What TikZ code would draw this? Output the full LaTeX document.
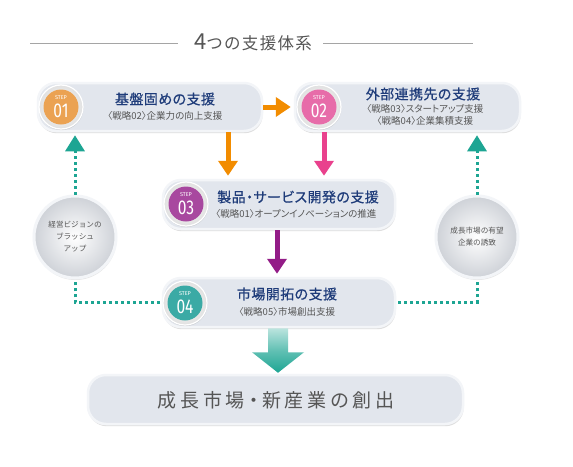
\documentclass[tikz,border=0pt]{standalone}
\usepackage{fontspec}
\usepackage{graphicx}
\setmainfont{Noto Sans CJK JP}
\newfontfamily\jp{Noto Sans CJK JP}
\newfontfamily\jpp[RawFeature=+palt]{Noto Sans CJK JP}
\newfontfamily\jppb[RawFeature=+palt,FakeBold=0.6]{Noto Sans CJK JP}
\newfontfamily\numf{Fira Sans}
\usetikzlibrary{arrows.meta,shadows}
\definecolor{navy}{HTML}{1F3C7A}
\definecolor{txtgray}{HTML}{555555}
\definecolor{linegray}{HTML}{A5A5A5}
\definecolor{boxfill}{HTML}{E2E6ED}
\definecolor{boxedge}{HTML}{F3F5F8}
\definecolor{cOrange}{HTML}{EBA252}
\definecolor{cPink}{HTML}{E76CA9}
\definecolor{cPurple}{HTML}{A8489F}
\definecolor{cTeal}{HTML}{3BAAA5}
\definecolor{aOrange}{HTML}{F28C00}
\definecolor{aPink}{HTML}{E9418D}
\definecolor{aPurple}{HTML}{931C87}
\definecolor{aTeal}{HTML}{1DA593}
\newcommand\boxttl[1]{{\jppb\fontsize{14}{15}\selectfont\addfontfeature{LetterSpace=3}#1}}
\newcommand\boxsub[1]{{\jpp\fontsize{9.5}{10}\selectfont #1}}
\tikzset{
  pill/.style={draw=boxedge, line width=2.5pt, fill=boxfill, rounded corners=18pt,
    drop shadow={fill=black!45, opacity=0.28, shadow xshift=0.6pt, shadow yshift=-2.2pt}},
  stepring/.style={circle, minimum size=44pt, inner sep=0pt, draw=white, line width=1.2pt,
    inner color=white, outer color=black!12,
    drop shadow={fill=black!40, opacity=0.25, shadow xshift=0.4pt, shadow yshift=-1.2pt}},
  stepdot/.style={circle, minimum size=35pt, inner sep=0pt, draw=none},
  steplbl/.style={text=white, font=\numf\fontsize{5.5}{6}\selectfont, inner sep=0pt},
  stepnum/.style={text=white, font=\numf\fontsize{20}{20}\selectfont, inner sep=0pt},
  side/.style={circle, minimum size=82pt, inner sep=0pt, draw=boxedge, line width=3pt,
    inner color=white, outer color=boxfill!90!black!95,
    drop shadow={fill=black!40, opacity=0.25, shadow xshift=0.6pt, shadow yshift=-2pt},
    text=txtgray, align=center, font=\jp\fontsize{7.6}{12}\selectfont},
  solidarr/.style={line width=5pt, -{Triangle[width=19pt,length=15pt]}, shorten >=3pt},
  dotline/.style={aTeal, line width=3pt, dash pattern=on 3pt off 3pt},
  dotarr/.style={dotline, -{Triangle[width=19pt,length=16pt]}, shorten >=3pt}
}
\begin{document}
\begin{tikzpicture}[x=1pt,y=-1pt]
\useasboundingbox (0,0) rectangle (573,466);
\fill[white] (0,0) rectangle (573,466);

% title
\node[text=txtgray, inner sep=0pt] (title) at (253,42)
  {{\jp\fontsize{22}{22}\selectfont 4}{\jp\fontsize{16.5}{17}\selectfont\addfontfeature{LetterSpace=8} つの支援体系}};
\coordinate (tl) at (30,43);
\coordinate (tr) at (473,43);
\draw[linegray, line width=0.8pt] (tl) -- (178,43);
\draw[linegray, line width=0.8pt] (323,43) -- (tr);

% side circles
\node[side] (lc) at (75,237) {経営ビジョンの\\ブラッシュ\\アップ};
\node[side] (rc) at (477,237) {成長市場の有望\\企業の誘致};

% main boxes
\node[pill, minimum width=224pt, minimum height=48pt] (b1) at (150,107) {};
\node[pill, minimum width=225pt, minimum height=48pt] (b2) at (407.5,107) {};
\node[pill, minimum width=232pt, minimum height=49pt] (b3) at (279,204.5) {};
\node[pill, minimum width=232pt, minimum height=49pt] (b4) at (279,302.5) {};
\node[pill, minimum width=375pt, minimum height=49pt] (fin) at (275.5,399.5) {};

% dotted teal connectors
\draw[dotline, shorten <=2pt] (b4.west) -| (lc.south);
\draw[dotline, shorten <=2pt] (b4.east) -| (rc.south);
\draw[dotarr] (lc.north) -- (lc.north |- b1.south);
\draw[dotarr] (rc.north) -- (rc.north |- b2.south);

% solid arrows
\coordinate (xo) at (228,0);
\coordinate (xp) at (324,0);
\coordinate (xu) at (277,0);
\draw[solidarr, aOrange] (b1.east) -- (b2.west);
\draw[solidarr, aOrange] (xo |- b1.south) -- (xo |- b3.north);
\draw[solidarr, aPink] (xp |- b2.south) -- (xp |- b3.north);
\draw[solidarr, aPurple] (xu |- b3.south) -- (xu |- b4.north);

% big teal arrow
\coordinate (xb) at (278,0);
\coordinate (ab) at (xb |- b4.south);
\coordinate (at) at (xb |- fin.north);
\shade[top color=aTeal!30, bottom color=aTeal, middle color=aTeal!70]
  ([xshift=-10pt]ab) -- ([xshift=10pt]ab) -- ([xshift=10pt,yshift=-24pt]ab)
  -- ([xshift=26pt,yshift=-24pt]ab) -- ([yshift=1pt]at) -- ([xshift=-26pt,yshift=-24pt]ab)
  -- ([xshift=-10pt,yshift=-24pt]ab) -- cycle;

% step circles
\node[stepring] (s1) at (61,107) {};
\node[stepdot, fill=cOrange] (d1) at (s1) {};
\node[stepring] (s2) at (319,107) {};
\node[stepdot, fill=cPink] (d2) at (s2) {};
\node[stepring] (s3) at (186,204) {};
\node[stepdot, fill=cPurple] (d3) at (s3) {};
\node[stepring] (s4) at (185,303) {};
\node[stepdot, fill=cTeal] (d4) at (s4) {};
\foreach \s/\n in {d1/01,d2/02,d3/03,d4/04}{
  \node[steplbl] (\s l) at ([yshift=9pt]\s.center) {STEP};
  \node[stepnum] (\s n) at ([yshift=-3.5pt]\s.center) {\scalebox{0.78}[1]{\n}};
}

% box texts
\node[text=navy, inner sep=0pt] (t1) at (165,99) {\boxttl{基盤固めの支援}};
\node[text=txtgray, inner sep=0pt] (u1) at (165,116) {\boxsub{〈戦略02〉企業力の向上支援}};
\node[text=navy, inner sep=0pt] (t2) at (423,94) {\boxttl{外部連携先の支援}};
\node[text=txtgray, inner sep=0pt] (u2) at (425,109) {\boxsub{〈戦略03〉スタートアップ支援}};
\node[text=txtgray, inner sep=0pt] (v2) at (425,121) {\boxsub{〈戦略04〉企業集積支援}};
\node[text=navy, inner sep=0pt] (t3) at (298,197) {\boxttl{製品・サービス開発の支援}};
\node[text=txtgray, inner sep=0pt] (u3) at (296,214) {\boxsub{〈戦略01〉オープンイノベーションの推進}};
\node[text=navy, inner sep=0pt] (t4) at (287,294) {\boxttl{市場開拓の支援}};
\node[text=txtgray, inner sep=0pt] (u4) at (287,312) {\boxsub{〈戦略05〉市場創出支援}};
\node[text=txtgray, inner sep=0pt] (tf) at (276,400)
  {{\jpp\fontsize{19}{21}\selectfont\addfontfeature{LetterSpace=20}成長市場・新産業の創出}};
\end{tikzpicture}
\end{document}
